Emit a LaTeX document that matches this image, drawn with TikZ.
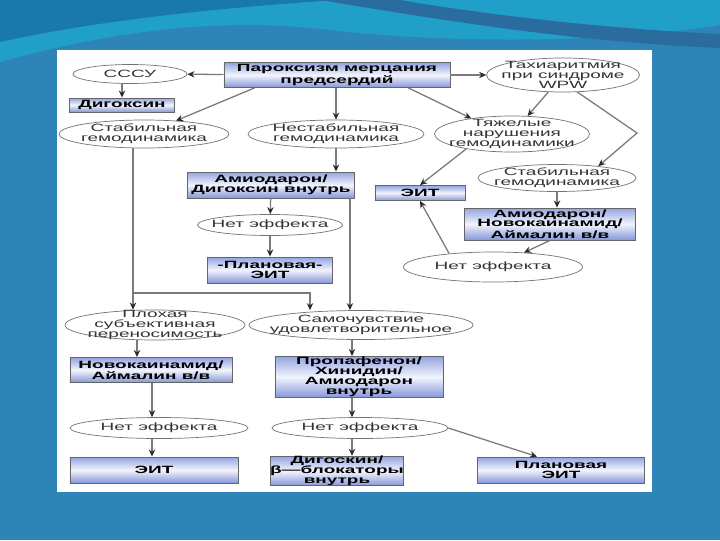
\documentclass[tikz,border=0pt]{standalone}
\usepackage{fontspec}
\setmainfont{Liberation Sans}[FakeStretch=1.8]
\usepackage{tikz}
\usetikzlibrary{positioning,arrows.meta,shapes.geometric,calc}
\definecolor{cBg}{HTML}{2E84B6}
\definecolor{cWaveA}{HTML}{1A79AC}
\definecolor{cWaveB}{HTML}{20A0C9}
\definecolor{cWaveC}{HTML}{2A6C9E}
\definecolor{cBoxTop}{HTML}{93A4E2}
\definecolor{cBoxMid}{HTML}{F2F4FC}
\definecolor{cBoxBot}{HTML}{8597D8}
\definecolor{cLine}{HTML}{7A7A7A}
\definecolor{cHead}{HTML}{2B2B2B}
\definecolor{cTxt}{HTML}{333333}
\newcommand\ellfont{\fontsize{7.5}{7}\selectfont\color{cTxt}}
\newcommand\boxfont{\fontsize{7.5}{7}\selectfont\bfseries}

\begin{document}
\begin{tikzpicture}[x=0.025cm,y=-0.025cm,
  ell/.style={draw=black!55,line width=0.5pt,ellipse,fill=white,align=center,
              inner xsep=-0.3cm,inner ysep=-0.1cm,font=\ellfont},
  box/.style={draw=black!60,line width=0.6pt,rectangle,top color=cBoxTop,
              bottom color=cBoxBot,middle color=cBoxMid,inner sep=0pt,
              align=center,font=\boxfont},
  ar/.style={line width=0.9pt,draw=cLine,-{Stealth[length=5pt,width=4.5pt,color=cHead]}}]
\useasboundingbox (0,0) rectangle (720,540);
% slide background
\fill[cBg] (0,0) rectangle (720,540);
\fill[cWaveB] (0,0) -- (720,0) -- (720,25) .. controls (600,45) and (430,42) .. (330,30)
  .. controls (200,14) and (80,40) .. (0,62) -- cycle;
\fill[cWaveA] (0,0) -- (340,0) .. controls (210,8) and (90,22) .. (0,42) -- cycle;
\fill[cWaveC] (320,0) .. controls (430,18) and (570,42) .. (720,48) -- (720,34)
  .. controls (590,28) and (470,12) .. (400,0) -- cycle;
\fill[white] (57,50) rectangle (652,492);
% nodes
\node[box,minimum width=5.65cm,minimum height=0.625cm] (p) at (337,75) {Пароксизм мерцания\\предсердий};
\node[ell,minimum width=2.85cm,minimum height=0.475cm] (sssu) at (130,74) {СССУ};
\node[box,minimum width=2.625cm,minimum height=0.35cm] (digox) at (122,105) {Дигоксин};
\node[ell,minimum width=4.25cm,minimum height=0.7cm] (stab1) at (144,134) {Стабильная\\гемодинамика};
\node[ell,minimum width=4.4cm,minimum height=0.7cm] (nestab) at (336,134) {Нестабильная\\гемодинамика};
\node[ell,minimum width=3.825cm,minimum height=0.85cm] (tahi) at (563,75) {Тахиаритмия\\при синдроме\\WPW};
\node[ell,minimum width=3.875cm,minimum height=0.9cm] (tyazh) at (512,134) {Тяжелые\\нарушения\\гемодинамики};
\node[ell,minimum width=3.95cm,minimum height=0.675cm] (stab2) at (557,178) {Стабильная\\гемодинамика};
\node[box,minimum width=4.175cm,minimum height=0.65cm] (amiodig) at (271,185) {Амиодарон/\\Дигоксин внутрь};
\node[box,minimum width=2.25cm,minimum height=0.375cm] (eit1) at (420,193) {ЭИТ};
\node[ell,minimum width=3.625cm,minimum height=0.525cm] (netef1) at (270,225) {Нет эффекта};
\node[box,minimum width=3.125cm,minimum height=0.65cm] (plan1) at (270,270) {-Плановая-\\ЭИТ};
\node[box,minimum width=4.275cm,minimum height=0.8cm] (amionov) at (550,224) {Амиодарон/\\Новокаинамид/\\Аймалин в/в};
\node[ell,minimum width=4.475cm,minimum height=0.75cm] (netef2) at (493,267) {Нет эффекта};
\node[ell,minimum width=4.5cm,minimum height=0.75cm] (ploh) at (155,325) {Плохая\\субъективная\\переносимость};
\node[ell,minimum width=5.15cm,minimum height=0.725cm] (samoch) at (361,325) {Самочувствие\\удовлетворительное};
\node[box,minimum width=4.05cm,minimum height=0.625cm] (novoc) at (151,370) {Новокаинамид/\\Аймалин в/в};
\node[box,minimum width=4.2cm,minimum height=1.025cm] (propaf) at (359,377) {Пропафенон/\\Хинидин/\\Амиодарон\\внутрь};
\node[ell,minimum width=4.45cm,minimum height=0.525cm] (netef3) at (159,428) {Нет эффекта};
\node[ell,minimum width=4.4cm,minimum height=0.525cm] (netef4) at (360,428) {Нет эффекта};
\node[box,minimum width=4.2cm,minimum height=0.65cm] (eit2) at (154,470) {ЭИТ};
\node[box,minimum width=3.125cm,minimum height=0.7cm] (digbeta) at (337,471) {Дигоскин/\\β—блокаторы\\внутрь};
\node[box,minimum width=4.175cm,minimum height=0.65cm] (plan2) at (561,470) {Плановая\\ЭИТ};
\coordinate (bend) at (637,133);
\coordinate (split) at (133,293);
\coordinate (splitr) at (310,293);
\coordinate (lc) at (152,0);
\coordinate (mc) at (352,0);
% connectors
\draw[ar] (p) -- (sssu);
\draw[ar] (sssu.south -| digox.north) -- (digox.north);
\draw[ar] ($(p.south west)+(31,0)$) -- (stab1);
\draw[ar] (p.south -| nestab.north) -- (nestab.north);
\draw[ar] (p) -- (tahi);
\draw[ar] ($(p.south east)+(-42,0)$) -- (tyazh.159);
\draw[ar] (tahi) -- (tyazh);
\draw[ar] (tahi.-50) -- (bend) -- (stab2.16);
\draw[ar] (tyazh.198) -- (eit1.north);
\draw[ar] (stab2.south) -- (stab2.south |- amionov.north);
\draw[ar] (amionov.south) -- (netef2);
\draw[ar] (netef2.163) -- (eit1.south);
\draw[ar] (nestab.south) -- (nestab.south |- amiodig.north);
\draw[ar] (amiodig) -- (netef1);
\draw[ar] (netef1) -- (plan1);
\draw[ar] ($(amiodig.south east)+(-5,0)$) coordinate (dn) -- (dn |- samoch.north);
\draw[ar] (split |- stab1.south) -- (split |- ploh.north);
\draw[ar] (split) -- (splitr) -- (splitr |- samoch.north);
\draw[ar] ($(ploh.south)+(-18,0)$) coordinate (lq) -- (lq |- novoc.north);
\foreach \a/\b in {novoc/netef3,netef3/eit2}
  \draw[ar] (lc |- \a.south) -- (lc |- \b.north);
\foreach \a/\b in {samoch/propaf,propaf/netef4,netef4/digbeta}
  \draw[ar] (mc |- \a.south) -- (mc |- \b.north);
\draw[ar] (netef4.east) -- ($(plan2.north)+(-24,0)$);
\end{tikzpicture}
\end{document}
